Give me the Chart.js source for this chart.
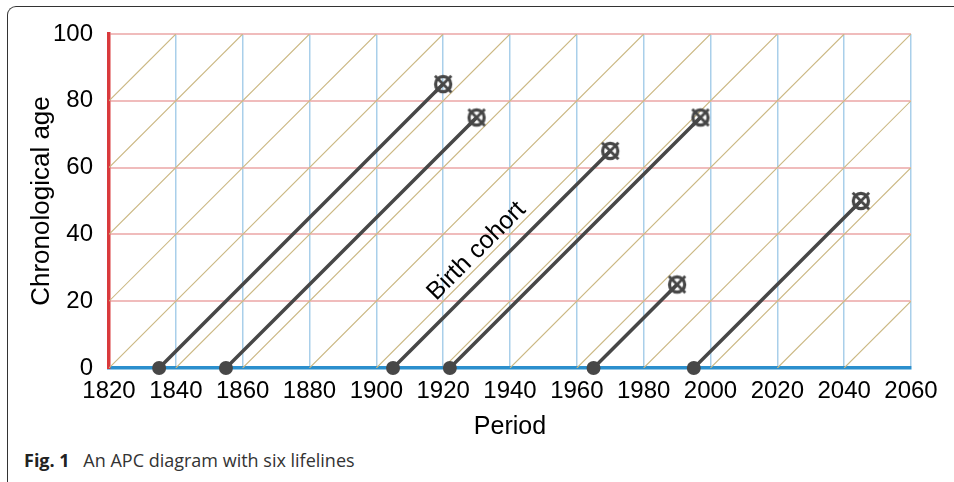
<!DOCTYPE html>
<html>
<head>
<meta charset="utf-8">
<script src="https://cdn.jsdelivr.net/npm/chart.js@4"></script>
<style>
  body { margin: 0; background: #fff; }
  #wrap { position: relative; width: 954px; height: 482px; overflow: hidden; }
  #frame {
    position: absolute; left: 7px; top: 6px; width: 1000px; height: 520px;
    border-left: 1.5px solid #333; border-top: 1.5px solid #333;
    border-top-left-radius: 9px;
  }
  #apc { position: absolute; left: 0; top: 0; }
  #caption {
    position: absolute; left: 24px; top: 448px;
    font-family: "Open Sans", "Noto Sans", sans-serif; font-size: 18px; color: #333;
  }
  #caption b { color: #222; margin-right: 9px; }
</style>
</head>
<body>
<div id="wrap">
  <div id="frame"></div>
  <canvas id="apc" width="954" height="442"></canvas>
  <div id="caption"><b>Fig. 1</b> An APC diagram with six lifelines</div>
</div>
<script>
// lifelines: year of birth and age at end of life
const birthYears = [1835, 1855, 1905, 1922, 1965, 1995];
const endAges = [85, 75, 65, 75, 25, 50];

// axes
const periodMin = 1820, periodMax = 2060;
const ageMin = 0, ageMax = 100;
const tickStep = 20;

// cohort diagonals (year where age would be 0)
const cohortLines = [1720, 1740, 1760, 1780, 1800, 1820, 1840, 1860, 1880, 1900,
  1920, 1940, 1960, 1980, 2000, 2020, 2040];

const cohortLabel = "Birth cohort";
const cohortLabelAt = { x: 1930, y: 35 };

const font = "'Liberation Sans', Arial, sans-serif";
const lifeColor = "#474747";

// clip each cohort line x = c + age to the chart box
function cohortSegment(c) {
  const a0 = Math.max(ageMin, periodMin - c);
  const a1 = Math.min(ageMax, periodMax - c);
  return [{ x: c + a0, y: a0 }, { x: c + a1, y: a1 }];
}

// end-of-life marker: circle with a cross
function makeEndMarker() {
  const cv = document.createElement("canvas");
  cv.width = 26; cv.height = 26;
  const g = cv.getContext("2d");
  g.translate(13, 13);
  g.strokeStyle = lifeColor;
  g.lineWidth = 3.2;
  g.beginPath();
  g.arc(0, 0, 7.6, 0, Math.PI * 2);
  g.stroke();
  g.lineWidth = 2.8;
  g.beginPath();
  g.moveTo(-8.2, -8.2); g.lineTo(8.2, 8.2);
  g.moveTo(8.2, -8.2); g.lineTo(-8.2, 8.2);
  g.stroke();
  return cv;
}
const endMarker = makeEndMarker();

const lifeSets = birthYears.map((b, i) => ({
  data: [{ x: b, y: 0 }, { x: b + endAges[i], y: endAges[i] }],
  showLine: true,
  borderColor: lifeColor,
  backgroundColor: lifeColor,
  borderWidth: 3.5,
  pointStyle: ["circle", endMarker],
  pointRadius: [7, 10],
  pointBorderWidth: 0,
  order: 1,
  clip: false,
}));

const diagSets = cohortLines.map(c => ({
  data: cohortSegment(c),
  showLine: true,
  borderColor: "#cbb883",
  borderWidth: 1.1,
  pointRadius: 0,
  order: 2,
}));

const labelPlugin = {
  id: "cohortLabel",
  afterDatasetsDraw(chart) {
    const { ctx, scales } = chart;
    const px = scales.x.getPixelForValue(cohortLabelAt.x);
    const py = scales.y.getPixelForValue(cohortLabelAt.y);
    const dx = scales.x.getPixelForValue(periodMin + 10) - scales.x.getPixelForValue(periodMin);
    const dy = scales.y.getPixelForValue(10) - scales.y.getPixelForValue(0);
    ctx.save();
    ctx.translate(px, py);
    ctx.rotate(Math.atan2(dy, dx));
    ctx.font = "25px " + font;
    ctx.fillStyle = "#000";
    ctx.textAlign = "center";
    ctx.textBaseline = "middle";
    ctx.fillText(cohortLabel, 0, 0);
    ctx.restore();
  }
};

const plainTick = v => String(v);

new Chart(document.getElementById("apc"), {
  type: "scatter",
  data: { datasets: [...lifeSets, ...diagSets] },
  options: {
    responsive: false,
    animation: false,
    layout: { padding: { left: 0, right: 43, top: 34, bottom: 0 } },
    plugins: { legend: { display: false }, tooltip: { enabled: false } },
    scales: {
      x: {
        type: "linear",
        min: periodMin,
        max: periodMax,
        afterFit(s) { s.height = 74; },
        ticks: { stepSize: tickStep, color: "#000", font: { size: 24, family: font }, padding: 9, callback: plainTick },
        grid: { color: "#a9cfea", lineWidth: 1.5, drawTicks: false },
        border: { color: "#2b8fcd", width: 3.5 },
        title: { display: true, text: "Period", color: "#000", font: { size: 25, family: font }, padding: 0 },
      },
      y: {
        min: ageMin,
        max: ageMax,
        afterFit(s) { s.width = 109; },
        ticks: { stepSize: tickStep, color: "#000", font: { size: 24, family: font }, padding: 16, callback: plainTick },
        grid: { color: "#f0bcbc", lineWidth: 2, drawTicks: false },
        border: { color: "#d93a3c", width: 3.5 },
        title: { display: true, text: "Chronological age", color: "#000", font: { size: 26, family: font }, padding: 26 },
      },
    },
  },
  plugins: [labelPlugin],
});
</script>
</body>
</html>
